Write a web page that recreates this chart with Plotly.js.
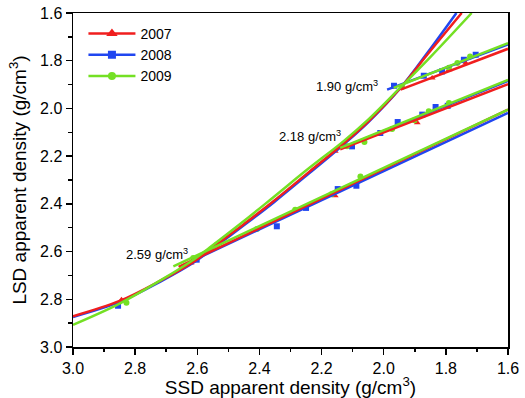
<!DOCTYPE html>
<html>
<head>
<meta charset="utf-8">
<script src="https://cdn.plot.ly/plotly-3.0.1.min.js"></script>
<style>html,body{margin:0;padding:0;background:#fff;}#chart{width:525px;height:398px;}</style>
</head>
<body>
<div id="chart"></div>
<script>
// ---- data ----
const years = ['2007', '2008', '2009'];

// fitted curves (SSD x, LSD y)
const curve2007_x = [3.0, 2.85, 2.72, 2.61, 2.56, 2.45, 2.355, 2.24, 2.13, 2.05, 1.946, 1.86, 1.749];
const curve2007_y = [2.871, 2.807, 2.723, 2.641, 2.593, 2.485, 2.389, 2.266, 2.148, 2.055, 1.914, 1.775, 1.6];
const curve2008_x = [3.0, 2.85, 2.72, 2.61, 2.56, 2.45, 2.355, 2.24, 2.13, 2.05, 1.946, 1.86, 1.766];
const curve2008_y = [2.874, 2.811, 2.727, 2.645, 2.597, 2.49, 2.395, 2.272, 2.152, 2.058, 1.914, 1.768, 1.6];
const curve2009_x = [3.0, 2.85, 2.72, 2.61, 2.56, 2.45, 2.355, 2.24, 2.13, 2.05, 1.946, 1.85, 1.717];
const curve2009_y = [2.907, 2.818, 2.722, 2.632, 2.583, 2.472, 2.372, 2.250, 2.138, 2.047, 1.912, 1.785, 1.6];

// straight fits for the three density groups
const top2007_x = [1.946, 1.6], top2007_y = [1.921, 1.750];
const mid2007_x = [2.14, 1.6],  mid2007_y = [2.172, 1.898];
const bot2007_x = [2.66, 1.6],  bot2007_y = [2.664, 2.005];
const top2008_x = [1.989, 1.6], top2008_y = [1.921, 1.732];
const mid2008_x = [2.135, 1.6], mid2008_y = [2.165, 1.885];
const bot2008_x = [2.61, 1.6],  bot2008_y = [2.635, 2.019];
const top2009_x = [1.968, 1.6], top2009_y = [1.914, 1.726];
const mid2009_x = [2.14, 1.6],  mid2009_y = [2.165, 1.880];
const bot2009_x = [2.677, 1.6], bot2009_y = [2.662, 2.005];

// measured points
const pts2007_x = [2.844, 2.62, 2.156, 2.156, 1.892, 1.844, 1.790, 1.736];
const pts2007_y = [2.802, 2.648, 2.366, 2.180, 2.060, 1.872, 1.838, 1.810];
const pts2008_x = [2.855, 2.602, 2.344, 2.25, 2.148, 2.088, 2.102, 2.011, 1.955, 1.876, 1.833, 1.794, 1.967, 1.871, 1.812, 1.742, 1.704];
const pts2008_y = [2.827, 2.634, 2.494, 2.417, 2.338, 2.324, 2.159, 2.103, 2.057, 2.026, 1.994, 1.989, 1.905, 1.863, 1.845, 1.796, 1.775];
const pts2009_x = [2.828, 2.613, 2.537, 2.408, 2.285, 2.168, 2.075, 2.118, 2.062, 1.973, 1.901, 1.855, 1.790, 1.941, 1.790, 1.763, 1.722];
const pts2009_y = [2.815, 2.627, 2.571, 2.505, 2.425, 2.360, 2.285, 2.159, 2.141, 2.086, 2.050, 2.012, 1.977, 1.910, 1.830, 1.810, 1.782];

// group labels
const groupLabels = ['1.90 g/cm<sup>3</sup>', '2.18 g/cm<sup>3</sup>', '2.59 g/cm<sup>3</sup>'];
const labelX = [2.011, 2.130, 2.624];
const labelY = [1.905, 2.117, 2.610];

// ---- styling ----
const colors = {'2007': '#f01e1e', '2008': '#2046f0', '2009': '#74e024'};
const symbols = {'2007': 'triangle-up', '2008': 'square', '2009': 'circle'};
const legendSizes = {'2007': 10, '2008': 8, '2009': 8};

const series = {
  '2007': {curve: [curve2007_x, curve2007_y], fits: [[top2007_x, top2007_y], [mid2007_x, mid2007_y], [bot2007_x, bot2007_y]], pts: [pts2007_x, pts2007_y]},
  '2008': {curve: [curve2008_x, curve2008_y], fits: [[top2008_x, top2008_y], [mid2008_x, mid2008_y], [bot2008_x, bot2008_y]], pts: [pts2008_x, pts2008_y]},
  '2009': {curve: [curve2009_x, curve2009_y], fits: [[top2009_x, top2009_y], [mid2009_x, mid2009_y], [bot2009_x, bot2009_y]], pts: [pts2009_x, pts2009_y]}
};

const traces = [];
const drawOrder = ['2008', '2007', '2009'];
drawOrder.forEach(function (yr) {
  const s = series[yr];
  traces.push({x: s.pts[0], y: s.pts[1], mode: 'markers', type: 'scatter', showlegend: false,
    marker: {symbol: symbols[yr], size: 6, color: colors[yr]}, hoverinfo: 'skip'});
});
drawOrder.forEach(function (yr) {
  const s = series[yr];
  traces.push({x: s.curve[0], y: s.curve[1], mode: 'lines', type: 'scatter', showlegend: false,
    line: {color: colors[yr], width: 2.5, shape: 'spline', smoothing: 1.0}, hoverinfo: 'skip'});
  s.fits.forEach(function (f) {
    traces.push({x: f[0], y: f[1], mode: 'lines', type: 'scatter', showlegend: false,
      line: {color: colors[yr], width: 2.5}, hoverinfo: 'skip'});
  });
});
years.forEach(function (yr) {
  traces.push({x: [null], y: [null], mode: 'lines+markers', type: 'scatter', name: yr,
    line: {color: colors[yr], width: 2.5},
    marker: {symbol: symbols[yr], size: legendSizes[yr], color: colors[yr]}});
});

const annotations = groupLabels.map(function (t, i) {
  return {text: t, x: labelX[i], y: labelY[i], xref: 'x', yref: 'y', showarrow: false,
    xanchor: 'right', yanchor: 'middle', font: {size: 13, color: '#000'}};
});

const axisCommon = {
  dtick: 0.2, tick0: 1.6, tickformat: '.1f',
  ticks: 'outside', ticklen: 6, tickwidth: 1.5, tickcolor: '#000',
  showline: true, linewidth: 1.5, linecolor: '#000', mirror: true,
  showgrid: false, zeroline: false,
  minor: {dtick: 0.1, ticks: 'outside', ticklen: 3.5, tickwidth: 1.5, tickcolor: '#000', showgrid: false},
  tickfont: {size: 16, color: '#000'}
};

const layout = {
  width: 525, height: 398,
  margin: {l: 73, r: 17, t: 13, b: 51, pad: 0},
  paper_bgcolor: '#fff', plot_bgcolor: '#fff',
  font: {family: 'Arial, "Liberation Sans", sans-serif', color: '#000'},
  showlegend: true,
  legend: {x: 0.024, y: 0.985, xanchor: 'left', yanchor: 'top', bgcolor: 'rgba(0,0,0,0)',
    font: {size: 14, color: '#000'}, itemwidth: 47, tracegroupgap: 0},
  xaxis: Object.assign({}, axisCommon, {range: [3.0, 1.6],
    title: {text: 'SSD apparent density (g/cm<sup>3</sup>)', font: {size: 19, color: '#000'}, standoff: 4}}),
  yaxis: Object.assign({}, axisCommon, {range: [3.0, 1.6],
    title: {text: 'LSD apparent density (g/cm<sup>3</sup>)', font: {size: 19, color: '#000'}, standoff: 8}}),
  annotations: annotations
};

Plotly.newPlot('chart', traces, layout, {displayModeBar: false, staticPlot: true});
</script>
</body>
</html>
